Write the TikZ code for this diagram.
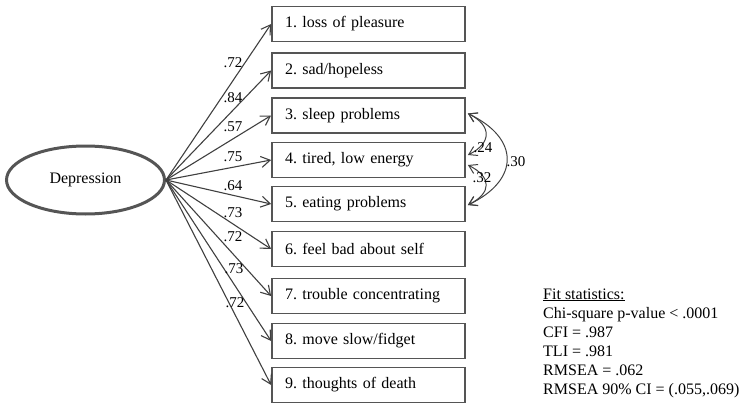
\documentclass[tikz,border=0pt]{standalone}
\usepackage{fontspec}
\setmainfont{Liberation Serif}
\usetikzlibrary{shapes.geometric,arrows.meta,calc}
\definecolor{linegray}{HTML}{404040}
\definecolor{boxgray}{HTML}{555555}
\frenchspacing
\begin{document}
\begin{tikzpicture}[x=1pt,y=-1pt,
  latent/.style={ellipse,draw=boxgray,line width=3pt,minimum width=158pt,minimum height=68pt,inner sep=0pt,font=\fontsize{16}{19}\selectfont},
  item/.style={rectangle,draw=boxgray,line width=1.8pt,minimum height=35pt,text width=167pt,inner xsep=13pt,inner ysep=0pt,align=left,font=\fontsize{16}{19}\selectfont\frenchspacing},
  load/.style={draw=linegray,line width=1.1pt,-{Straight Barb[length=9pt,width=11pt]}},
  cov/.style={draw=linegray,line width=1pt,{Straight Barb[length=8pt,width=10pt]}-{Straight Barb[length=8pt,width=10pt]}},
  lbl/.style={inner sep=0pt,font=\fontsize{15}{18}\selectfont},
  fit/.style={anchor=base west,inner sep=0pt,font=\fontsize{16}{19}\selectfont}]
\useasboundingbox (0,0) rectangle (751,409);
\node[latent] (dep) at (85.5,180) {Depression};
\node[item] (n1) at (368.5,24) {1. loss of pleasure};
\node[item] (n2) at (368.5,70.5) {2. sad/hopeless};
\node[item] (n3) at (368.5,115.5) {3. sleep problems};
\node[item] (n4) at (368.5,160) {4. tired, low energy};
\node[item] (n5) at (368.5,204) {5. eating problems};
\node[item] (n6) at (368.5,249) {6. feel bad about self};
\node[item] (n7) at (368.5,296) {7. trouble concentrating};
\node[item] (n8) at (368.5,341) {8. move slow/fidget};
\node[item] (n9) at (368.5,385) {9. thoughts of death};
\foreach \i in {1,...,9}{\draw[load] (dep.east) -- (n\i.west);}
\node[lbl] (l1) at (233,63) {.72};
\node[lbl] (l2) at (233,98) {.84};
\node[lbl] (l3) at (233,127) {.57};
\node[lbl] (l4) at (233,157) {.75};
\node[lbl] (l5) at (233,186) {.64};
\node[lbl] (l6) at (233,213) {.73};
\node[lbl] (l7) at (233,237) {.72};
\node[lbl] (l8) at (234,269) {.73};
\node[lbl] (l9) at (235,303) {.72};
\coordinate (n4a) at ($(n4.east)+(2,-5)$);
\coordinate (n4b) at ($(n4.east)+(2,5)$);
\coordinate (n3e) at ($(n3.east)+(2,-2)$);
\coordinate (n5e) at ($(n5.east)+(2,1)$);
\draw[cov] (n3e) .. controls +(24,12) and +(24,-12) .. (n4a);
\draw[cov] (n4b) .. controls +(24,12) and +(24,-12) .. (n5e);
\draw[cov] (n3e) .. controls +(52,25) and +(52,-25) .. (n5e);
\node[lbl] (c1) at (483,148) {.24};
\node[lbl] (c2) at (482,178) {.32};
\node[lbl] (c3) at (516,162) {.30};
\node[fit] (f1) at (543,299) {\underline{Fit statistics:}};
\node[fit] (f2) at (543,318) {Chi-square p-value < .0001};
\node[fit] (f3) at (543,337) {CFI = .987};
\node[fit] (f4) at (543,356) {TLI = .981};
\node[fit] (f5) at (543,375) {RMSEA = .062};
\node[fit] (f6) at (543,394) {RMSEA 90\% CI = (.055,.069)};
\end{tikzpicture}
\end{document}
